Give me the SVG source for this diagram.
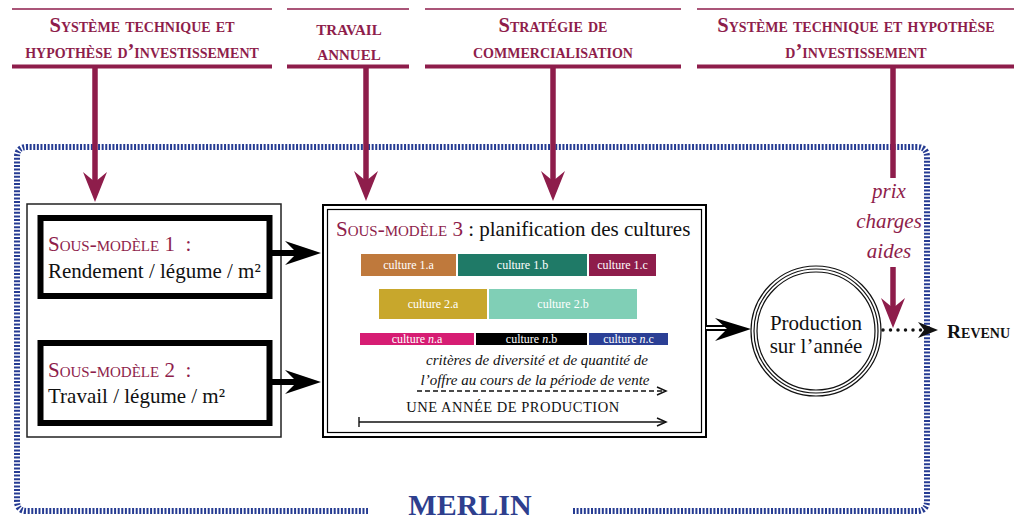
<svg xmlns="http://www.w3.org/2000/svg" width="1016" height="522" viewBox="0 0 1016 522">
<defs>
<style>
.hdr{font-family:"Liberation Serif",serif;font-weight:bold;font-variant:small-caps;fill:#8e1d4b;text-anchor:middle}
.mar{stroke:#8e1d4b;fill:none}
.marf{fill:#8e1d4b}
.body{font-family:"Liberation Serif",serif;fill:#111}
.sc{font-variant:small-caps}
.red{fill:#8e1d4b}
.bar{font-family:"Liberation Serif",serif;font-size:12px;fill:#fff;text-anchor:middle}
.it{font-style:italic}
</style>
<marker id="chev" markerWidth="12" markerHeight="10" refX="10" refY="5" orient="auto" markerUnits="userSpaceOnUse">
<path d="M1,1 L10,5 L1,9" fill="none" stroke="#111" stroke-width="1.5"/>
</marker>
</defs>
<rect width="1016" height="522" fill="#fff"/>

<!-- blue dashed frame -->
<g id="merlin">
<path d="M573,511 H917 Q927,511 927,501 V157 Q927,147 917,147 H27 Q17,147 17,157 V501 Q17,511 27,511 H368" fill="none" stroke="#253b92" stroke-width="6" stroke-dasharray="2 1.6"/>
<text x="470" y="515" font-family="Liberation Serif,serif" font-weight="bold" font-size="30" fill="#2e3f8e" text-anchor="middle">MERLIN</text>
</g>

<!-- headers -->
<g id="h1">
<line x1="12" y1="9" x2="272" y2="9" class="mar" stroke-width="1.5"/>
<line x1="12" y1="66.5" x2="272" y2="66.5" class="mar" stroke-width="4"/>
<text class="hdr" font-size="20.5" x="142" y="32">Système technique et</text>
<text class="hdr" font-size="20.5" x="142" y="58">hypothèse d’investissement</text>
</g>
<g id="h2">
<line x1="287" y1="9" x2="409" y2="9" class="mar" stroke-width="1.5"/>
<line x1="287" y1="66.5" x2="409" y2="66.5" class="mar" stroke-width="4"/>
<text class="hdr" font-size="21.5" x="349" y="35">travail</text>
<text class="hdr" font-size="21.5" x="349" y="60">annuel</text>
</g>
<g id="h3">
<line x1="425" y1="9" x2="681" y2="9" class="mar" stroke-width="1.5"/>
<line x1="425" y1="66.5" x2="681" y2="66.5" class="mar" stroke-width="4"/>
<text class="hdr" font-size="20.5" x="553" y="32">Stratégie de</text>
<text class="hdr" font-size="20.5" x="553" y="58">commercialisation</text>
</g>
<g id="h4">
<line x1="697" y1="9" x2="1014" y2="9" class="mar" stroke-width="1.5"/>
<line x1="697" y1="66.5" x2="1014" y2="66.5" class="mar" stroke-width="4"/>
<text class="hdr" font-size="20.5" x="856" y="32">Système technique et hypothèse</text>
<text class="hdr" font-size="20.5" x="856" y="58">d’investissement</text>
</g>

<!-- left container -->
<g id="container">
<rect x="27" y="204" width="254" height="233" fill="none" stroke="#222" stroke-width="1.5"/>
</g>
<g id="sm1">
<rect x="40.5" y="218" width="229" height="78" fill="#fff" stroke="#000" stroke-width="6"/>
<text class="body sc red" font-size="21" x="48" y="251">Sous-modèle 1 &#160;:</text>
<text class="body" font-size="21" x="48" y="278">Rendement / légume / m²</text>
</g>
<g id="sm2">
<rect x="40.5" y="343" width="229" height="80" fill="#fff" stroke="#000" stroke-width="6"/>
<text class="body sc red" font-size="21" x="48" y="377">Sous-modèle 2 &#160;:</text>
<text class="body" font-size="21" x="48" y="403">Travail / légume / m²</text>
</g>

<!-- sub-model 3 -->
<g id="sm3">
<rect x="323" y="205" width="383" height="232" fill="#fff" stroke="#000" stroke-width="2"/>
<rect x="327.5" y="209.5" width="374" height="223" fill="none" stroke="#000" stroke-width="1.2"/>
<text class="body" font-size="21" x="336" y="236"><tspan class="sc red">Sous-modèle 3</tspan> : planification des cultures</text>
<rect x="361" y="254" width="95" height="22" fill="#bf793c"/>
<rect x="458" y="254" width="129" height="22" fill="#1f7a67"/>
<rect x="589" y="254" width="67" height="22" fill="#8e1d4b"/>
<text class="bar" x="408.5" y="269">culture 1.a</text>
<text class="bar" x="522.5" y="269">culture 1.b</text>
<text class="bar" x="622.5" y="269">culture 1.c</text>
<rect x="379" y="289" width="108" height="30" fill="#c8a72c"/>
<rect x="489" y="289" width="148" height="30" fill="#80cfb6"/>
<text class="bar" x="433" y="308">culture 2.a</text>
<text class="bar" x="563" y="308">culture 2.b</text>
<rect x="360" y="333" width="114" height="12" fill="#d61d73"/>
<rect x="476" y="333" width="111" height="12" fill="#000"/>
<rect x="589" y="333" width="79" height="12" fill="#2b3f95"/>
<text class="bar" x="417" y="343">culture <tspan class="it">n</tspan>.a</text>
<text class="bar" x="531.5" y="343">culture <tspan class="it">n</tspan>.b</text>
<text class="bar" x="628.5" y="343">culture <tspan class="it">n</tspan>.c</text>
<text class="body it" font-size="15" x="537" y="365" text-anchor="middle">critères de diversité et de quantité de</text>
<text class="body it" font-size="15" x="535" y="385" text-anchor="middle">l’offre au cours de la période de vente</text>
<line x1="417" y1="391" x2="666" y2="391" stroke="#111" stroke-width="1.4" stroke-dasharray="5 3" marker-end="url(#chev)"/>
<text class="body" font-size="14.5" x="513" y="412" text-anchor="middle" letter-spacing="0.5">UNE ANNÉE DE PRODUCTION</text>
<line x1="359" y1="422" x2="666" y2="422" stroke="#111" stroke-width="1.4" marker-end="url(#chev)"/>
<line x1="359" y1="417" x2="359" y2="427" stroke="#111" stroke-width="1.4"/>
</g>

<!-- production -->
<g id="production">
<circle cx="816" cy="331" r="65" fill="#fff" stroke="#111" stroke-width="1.2"/>
<circle cx="816" cy="331" r="62" fill="none" stroke="#111" stroke-width="1.2"/>
<circle cx="816" cy="331" r="59" fill="none" stroke="#111" stroke-width="1.2"/>
<text class="body" font-size="21" x="816" y="330" text-anchor="middle">Production</text>
<text class="body" font-size="21" x="816" y="353" text-anchor="middle">sur l’année</text>
</g>

<g id="revenu">
<text class="body sc" font-weight="bold" font-size="19.5" x="947" y="338">Revenu</text>
</g>

<g id="params">
<text class="body it red" font-size="21" x="889" y="198" text-anchor="middle">prix</text>
<text class="body it red" font-size="21" x="889" y="228" text-anchor="middle">charges</text>
<text class="body it red" font-size="21" x="889" y="258" text-anchor="middle">aides</text>
</g>

<!-- connectors -->
<g id="connectors">
<line x1="95" y1="68" x2="95" y2="185" class="mar" stroke-width="5.5"/>
<path class="marf" d="M95,202 L83,172 L95,182 L107,172 Z"/>
<line x1="366" y1="68" x2="366" y2="185" class="mar" stroke-width="5.5"/>
<path class="marf" d="M366,201 L354,171 L366,181 L378,171 Z"/>
<line x1="553" y1="68" x2="553" y2="185" class="mar" stroke-width="5.5"/>
<path class="marf" d="M553,201 L541,171 L553,181 L565,171 Z"/>
<line x1="893" y1="68" x2="893" y2="178" class="mar" stroke-width="5.5"/>
<line x1="893" y1="267" x2="893" y2="310" class="mar" stroke-width="5.5"/>
<path class="marf" d="M893,328 L881,298 L893,308 L905,298 Z"/>

<line x1="272" y1="253" x2="300" y2="253" stroke="#000" stroke-width="6"/>
<path d="M321,253 L285,241 L297,253 L285,265 Z" fill="#000"/>
<line x1="272" y1="382" x2="300" y2="382" stroke="#000" stroke-width="6"/>
<path d="M321,382 L285,370 L297,382 L285,394 Z" fill="#000"/>

<line x1="706" y1="328" x2="734" y2="328" stroke="#000" stroke-width="6"/>
<line x1="706" y1="328" x2="736" y2="328" stroke="#fff" stroke-width="2"/>
<path d="M751,329 L715,318 L727,329 L715,341 Z" fill="#000"/>

<line x1="883" y1="330" x2="926" y2="330" stroke="#111" stroke-width="3.5" stroke-linecap="round" stroke-dasharray="0 7.5"/>
<path d="M938,330 L918,322 L924,330 L918,338 Z" fill="#111"/>
</g>
</svg>
